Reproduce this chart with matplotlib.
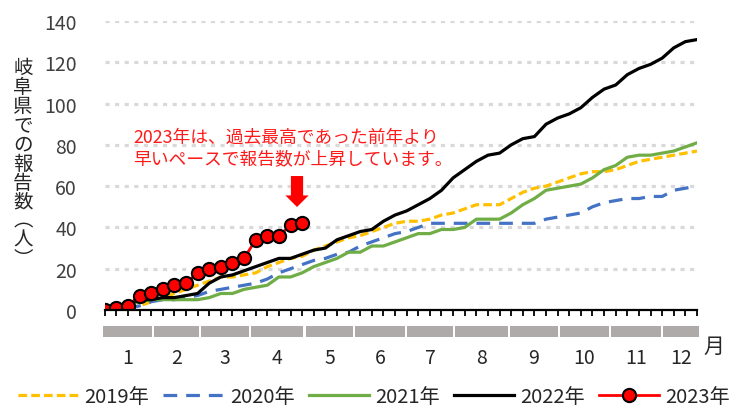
import matplotlib
matplotlib.use("Agg")
import matplotlib.pyplot as plt
from matplotlib.patches import FancyArrow, Rectangle

plt.rcParams["font.family"] = ["Noto Sans CJK JP", "DejaVu Sans"]

# weekly cumulative counts (week 1..52)
y2019 = [0, 0, 1, 2, 4, 6, 8, 10, 12, 14, 16, 16, 17, 18, 21, 23, 25, 26, 29, 31,
         33, 35, 36, 38, 40, 42, 43, 43, 44, 46, 47, 49, 51, 51, 51, 54, 57, 59, 60, 62,
         64, 66, 67, 67, 68, 70, 72, 73, 74, 75, 76, 77]
y2020 = [0, 0, 1, 2, 4, 5, 5, 6, 7, 9, 10, 11, 12, 13, 15, 18, 20, 22, 24, 25,
         27, 28, 31, 33, 35, 37, 38, 40, 42, 42, 42, 42, 42, 42, 42, 42, 42, 42, 44, 45,
         46, 47, 50, 52, 53, 54, 54, 55, 55, 58, 59, 60]
y2021 = [0, 1, 3, 4, 5, 5, 5, 5, 5, 6, 8, 8, 10, 11, 12, 16, 16, 18, 21, 23,
         25, 28, 28, 31, 31, 33, 35, 37, 37, 39, 39, 40, 44, 44, 44, 47, 51, 54, 58, 59,
         60, 61, 64, 68, 70, 74, 75, 75, 76, 77, 79, 81]
y2022 = [0, 1, 3, 5, 5, 6, 6, 7, 8, 13, 16, 17, 19, 21, 23, 25, 25, 27, 29, 30,
         34, 36, 38, 39, 43, 46, 48, 51, 54, 58, 64, 68, 72, 75, 76, 80, 83, 84, 90, 93,
         95, 98, 103, 107, 109, 114, 117, 119, 122, 127, 130, 131]
y2023 = [0, 1, 2, 7, 8, 10, 12, 13, 18, 20, 21, 23, 25, 34, 36, 36, 41, 42]

series_labels = ["2019年", "2020年", "2021年", "2022年", "2023年"]
months = [str(m) for m in range(1, 13)]
# month boundaries expressed in week index units
month_edges = [-0.2, 4.14, 8.19, 12.53, 17.2, 21.5, 25.95, 30.09, 34.8, 39.1, 43.5, 48.0, 51.3]

note = "2023年は、過去最高であった前年より\n早いペースで報告数が上昇しています。"
ylabel = "岐阜県での報告数︵人︶"

fig = plt.figure(figsize=(7.46, 4.10), dpi=100)
ax = fig.add_axes([104.7 / 746, 99 / 410, 592.3 / 746, 289 / 410])

weeks = list(range(len(y2019)))
ax.plot(weeks, y2019, color="#FFC000", lw=2.3, ls=(0, (2.7, 1.3)), label=series_labels[0])
ax.plot(weeks, y2020, color="#4472C4", lw=2.3, ls=(0, (4.3, 2.8)), label=series_labels[1])
ax.plot(weeks, y2021, color="#70AD47", lw=2.3, label=series_labels[2])
ax.plot(weeks, y2022, color="black", lw=2.3, label=series_labels[3])
ax.plot(range(len(y2023)), y2023, color="red", lw=2, marker="o", ms=9.5,
        mfc="red", mec="black", mew=1.5, label=series_labels[4], zorder=5)

ax.set_xlim(0, 51)
ax.set_ylim(0, 140)
ax.set_yticks(range(0, 141, 20))
ax.tick_params(axis="y", length=0, pad=20, labelsize=14, labelcolor="#404040")
ax.set_xticks(weeks)
ax.set_xticklabels([])
ax.tick_params(axis="x", direction="out", length=4, width=1.3, color="black")
for s in ["top", "right", "left"]:
    ax.spines[s].set_visible(False)
ax.spines["bottom"].set_linewidth(1.6)
ax.spines["bottom"].set_zorder(6)

ax.grid(axis="y", color="#D9D9D9", lw=2.3, ls=(0, (1.3, 1.7)))
ax.set_axisbelow(True)

# month bars under the axis
trans = ax.get_xaxis_transform()
for i, m in enumerate(months):
    x0 = month_edges[i] + 0.09
    x1 = month_edges[i + 1] - 0.09
    ax.add_patch(Rectangle((x0, -0.0945), x1 - x0, 0.04, transform=trans,
                           color="#AEAAAA", clip_on=False, lw=0))
    ax.text((month_edges[i] + month_edges[i + 1]) / 2, -0.163, m, transform=trans,
            ha="center", va="center", fontsize=14, color="#262626")
fig.text(714 / 746, 1 - 347 / 410, "月", ha="center", va="center", fontsize=15, color="#262626")

# vertical y label
fig.text(23 / 746, 1 - 164 / 410, "\n".join(ylabel), ha="center", va="center",
         fontsize=14, color="#262626", linespacing=0.88)

# annotation
fig.text(133 / 746, 1 - 148.5 / 410, note, ha="left", va="center", fontsize=12.8,
         color="#FF1A1A", linespacing=1.28)
ax.add_patch(FancyArrow(16.56, 64.9, 0, -15.0, width=1.05, head_width=2.0,
                        head_length=5.6, length_includes_head=True, color="red", lw=0))

handles, labels = ax.get_legend_handles_labels()
leg = fig.legend(handles, labels, loc="center", bbox_to_anchor=(374 / 746, 1 - 398 / 410),
                 ncol=5, frameon=False, fontsize=14.5, handlelength=3.0,
                 handletextpad=0.3, columnspacing=0.7, labelcolor="#262626")

fig.savefig("out.png", dpi=100)
